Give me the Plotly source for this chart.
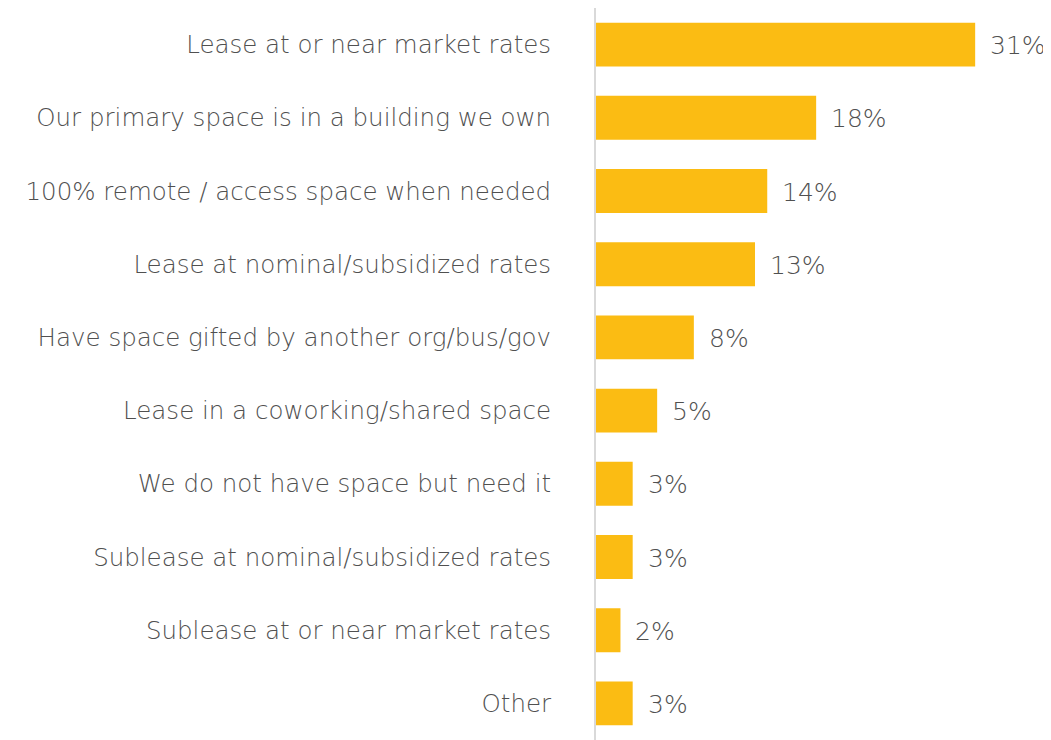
import plotly.graph_objects as go

categories = [
    "Lease at or near market rates",
    "Our primary space is in a building we own",
    "100% remote / access space when needed",
    "Lease at nominal/subsidized rates",
    "Have space gifted by another org/bus/gov",
    "Lease in a coworking/shared space",
    "We do not have space but need it",
    "Sublease at nominal/subsidized rates",
    "Sublease at or near market rates",
    "Other",
]
values = [31, 18, 14, 13, 8, 5, 3, 3, 2, 3]
labels = [f"{v}%" for v in values]

BAR = "#FBBC13"
TXT = "#505050"
FONT = "DejaVu Sans, Liberation Sans, Arial, sans-serif"

fig = go.Figure(go.Bar(
    x=values, y=categories, orientation="h",
    marker=dict(color=BAR, line=dict(width=0)),
    hoverinfo="skip",
))

for c, v, t in zip(categories, values, labels):
    fig.add_annotation(x=v, y=c, text=t, showarrow=False, xanchor="left",
                       xshift=13, yshift=-1,
                       font=dict(size=25, color=TXT, family=FONT, weight=300))

fig.update_layout(
    width=1043, height=732,
    margin=dict(l=588, r=0, t=0, b=0),
    paper_bgcolor="white", plot_bgcolor="white",
    bargap=0.4, showlegend=False,
    font=dict(family=FONT, size=24.5, color=TXT, weight=300),
)
fig.update_xaxes(range=[0, 37.2], visible=False, showgrid=False, zeroline=False)
fig.update_yaxes(autorange="reversed", showgrid=False, zeroline=False,
                 showline=True, linecolor="#D9D9D9", linewidth=2,
                 ticks="", ticklabelstandoff=38,
                 tickfont=dict(size=24.5, color=TXT, family=FONT, weight=300))

fig.write_html("out.html")
